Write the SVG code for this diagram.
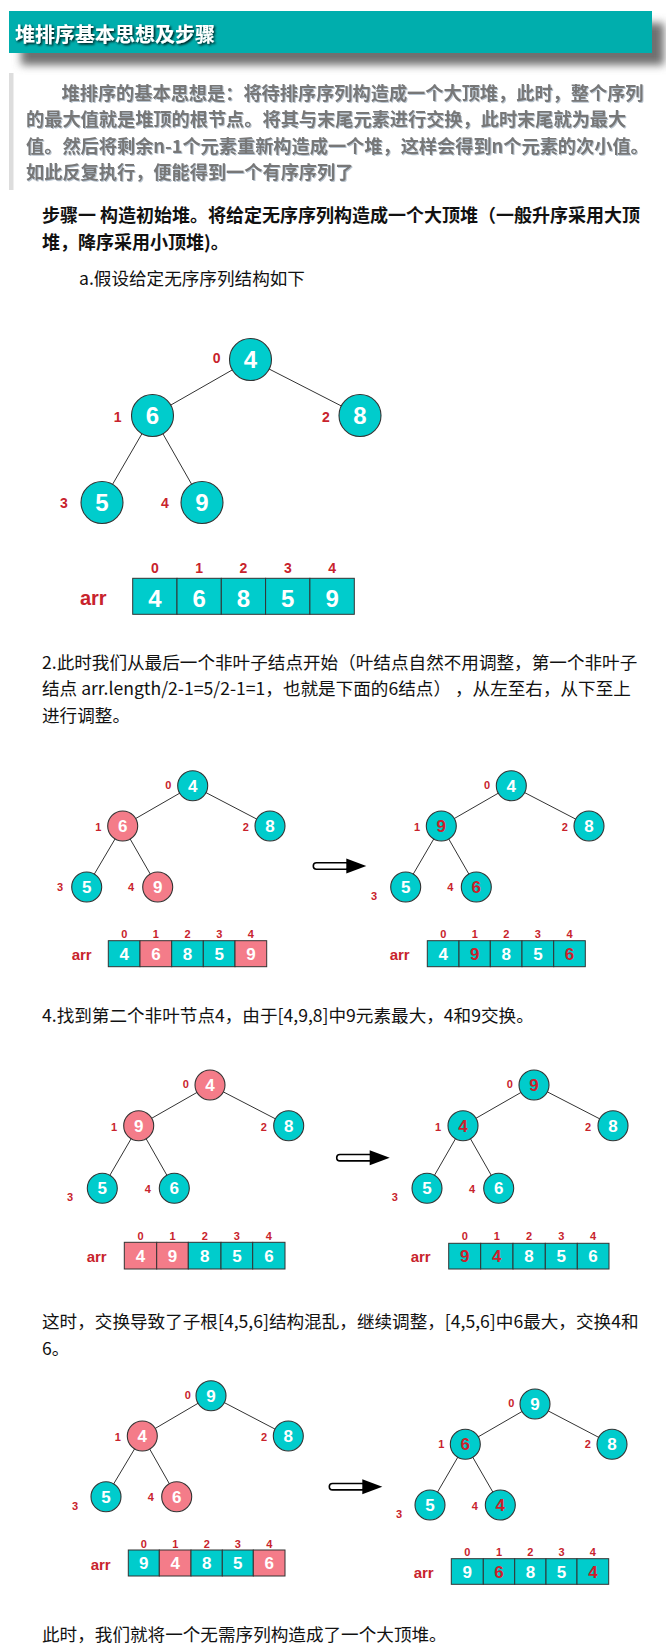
<svg xmlns="http://www.w3.org/2000/svg" xmlns:xlink="http://www.w3.org/1999/xlink" width="666" height="1651" viewBox="0 0 666 1651">
<style>
.cjk{font-family:"Noto Sans CJK SC","Noto Sans",sans-serif}
.title{font-size:20px;font-weight:bold;fill:#fff}
.quote{font-size:18.2px;font-weight:bold;fill:#777}
.step{font-size:18px;font-weight:bold;fill:#111}
.body{font-size:17.6px;fill:#111}
.nt{fill:#00CCCC;stroke:#333;stroke-width:1.1}
.np{fill:#F47C89;stroke:#333;stroke-width:1.1}
.edge{stroke:#333;stroke-width:1}
.num{font-family:"Liberation Sans",Arial,sans-serif;font-weight:bold;text-anchor:middle}
.w{fill:#fff}
.r{fill:#CC1F2B}
.idx{font-family:"Liberation Sans",Arial,sans-serif;font-weight:bold;text-anchor:middle;fill:#C8232C}
.big{font-size:24px}
.mid{font-size:17px}
.i14{font-size:14px}
.i11{font-size:11px}
.arrl{font-family:"Liberation Sans",Arial,sans-serif;font-weight:bold;text-anchor:middle;fill:#C8232C}
.cellt{fill:#00CCCC;stroke:#333;stroke-width:1}
.cellp{fill:#F47C89;stroke:#333;stroke-width:1}
</style>
<defs>
<filter id="hsh" x="-10%" y="-30%" width="130%" height="190%"><feGaussianBlur stdDeviation="4.5"/></filter>
<filter id="tsh" x="-5%" y="-30%" width="110%" height="160%"><feDropShadow dx="1.5" dy="1.5" stdDeviation="1.3" flood-color="#000" flood-opacity="0.9"/></filter>
<filter id="qsh" x="-5%" y="-30%" width="110%" height="160%"><feDropShadow dx="1" dy="1" stdDeviation="0.6" flood-color="#9ab" flood-opacity="0.7"/></filter>
<g id="fat-arrow">
<rect x="0" y="-3.2" width="36" height="6.4" rx="3.2" fill="#fff" stroke="#000" stroke-width="1.6"/>
<polygon points="33,-7.5 53,0 33,7.5" fill="#000"/>
</g>
</defs>
<rect width="666" height="1651" fill="#fff"/>

<!-- header -->
<g id="header">
<rect x="21" y="23" width="643" height="42" fill="#6f6f6f" filter="url(#hsh)"/>
<rect x="9" y="11" width="643" height="42" fill="#00AEAD"/>
<text class="cjk title" x="15" y="41.5" filter="url(#tsh)">堆排序基本思想及步骤</text>
</g>

<!-- blockquote -->
<g id="quote">
<rect x="9" y="73" width="4.5" height="117" fill="#ddd"/>
<g class="cjk quote" filter="url(#qsh)">
<text x="61.5" y="99.5">堆排序的基本思想是：将待排序序列构造成一个大顶堆，此时，整个序列</text>
<text x="26" y="126">的最大值就是堆顶的根节点。将其与末尾元素进行交换，此时末尾就为最大</text>
<text x="26" y="152.5">值。然后将剩余n-1个元素重新构造成一个堆，这样会得到n个元素的次小值。</text>
<text x="26" y="179">如此反复执行，便能得到一个有序序列了</text>
</g>
</g>

<g id="texts" class="cjk">
<text class="step" x="42" y="222">步骤一 构造初始堆。将给定无序序列构造成一个大顶堆（一般升序采用大顶</text>
<text class="step" x="42" y="248.5">堆，降序采用小顶堆)。</text>
<text class="body" x="79" y="285">a.假设给定无序序列结构如下</text>
<text class="body" x="42" y="668.5">2.此时我们从最后一个非叶子结点开始（叶结点自然不用调整，第一个非叶子</text>
<text class="body" x="42" y="695">结点 arr.length/2-1=5/2-1=1，也就是下面的6结点） ，从左至右，从下至上</text>
<text class="body" x="42" y="721.5">进行调整。</text>
<text class="body" x="42" y="1021.5">4.找到第二个非叶节点4，由于[4,9,8]中9元素最大，4和9交换。</text>
<text class="body" x="42" y="1328">这时，交换导致了子根[4,5,6]结构混乱，继续调整，[4,5,6]中6最大，交换4和</text>
<text class="body" x="42" y="1355">6。</text>
<text class="body" x="42" y="1641">此时，我们就将一个无需序列构造成了一个大顶堆。</text>
</g>

<!-- connectors (tree edges) -->
<g id="connectors" class="edge">
<line x1="250.5" y1="359.5" x2="152.5" y2="415.5"/>
<line x1="250.5" y1="359.5" x2="360" y2="415.5"/>
<line x1="152.5" y1="415.5" x2="102" y2="502.5"/>
<line x1="152.5" y1="415.5" x2="202" y2="502.5"/>

<line x1="192.7" y1="785.7" x2="122.7" y2="826"/>
<line x1="192.7" y1="785.7" x2="270" y2="826"/>
<line x1="122.7" y1="826" x2="86.7" y2="887"/>
<line x1="122.7" y1="826" x2="157.7" y2="887"/>

<line x1="511.3" y1="785.7" x2="441.3" y2="826"/>
<line x1="511.3" y1="785.7" x2="589" y2="826"/>
<line x1="441.3" y1="826" x2="405.7" y2="887"/>
<line x1="441.3" y1="826" x2="476.3" y2="887"/>

<line x1="210" y1="1085" x2="138.7" y2="1125.7"/>
<line x1="210" y1="1085" x2="288.7" y2="1125.7"/>
<line x1="138.7" y1="1125.7" x2="102.3" y2="1188.3"/>
<line x1="138.7" y1="1125.7" x2="174.3" y2="1188.3"/>

<line x1="534" y1="1085" x2="463" y2="1125.7"/>
<line x1="534" y1="1085" x2="613" y2="1125.7"/>
<line x1="463" y1="1125.7" x2="427" y2="1188.3"/>
<line x1="463" y1="1125.7" x2="498.7" y2="1188.3"/>

<line x1="211" y1="1395.7" x2="142.3" y2="1436"/>
<line x1="211" y1="1395.7" x2="288.3" y2="1436"/>
<line x1="142.3" y1="1436" x2="106" y2="1496.7"/>
<line x1="142.3" y1="1436" x2="176.7" y2="1496.7"/>

<line x1="535" y1="1404" x2="465.3" y2="1444.3"/>
<line x1="535" y1="1404" x2="612" y2="1444.3"/>
<line x1="465.3" y1="1444.3" x2="430" y2="1505"/>
<line x1="465.3" y1="1444.3" x2="500.3" y2="1505"/>
</g>

<!-- transformation arrows -->
<g id="arrows">
<use xlink:href="#fat-arrow" href="#fat-arrow" x="313.3" y="866"/>
<use xlink:href="#fat-arrow" href="#fat-arrow" x="336.7" y="1157.7"/>
<use xlink:href="#fat-arrow" href="#fat-arrow" x="329.3" y="1486.7"/>
</g>

<!-- Tree 1 -->
<g id="t1-n0"><circle class="nt" cx="250.5" cy="359.5" r="21"/><text class="num w big" x="250.5" y="368.1">4</text><text class="idx i14" x="216.7" y="363.3">0</text></g>
<g id="t1-n1"><circle class="nt" cx="152.5" cy="415.5" r="21"/><text class="num w big" x="152.5" y="424.1">6</text><text class="idx i14" x="117.7" y="422.3">1</text></g>
<g id="t1-n2"><circle class="nt" cx="360" cy="415.5" r="21"/><text class="num w big" x="360" y="424.1">8</text><text class="idx i14" x="326" y="422.3">2</text></g>
<g id="t1-n3"><circle class="nt" cx="102" cy="502.5" r="21"/><text class="num w big" x="102" y="511.1">5</text><text class="idx i14" x="64" y="508.3">3</text></g>
<g id="t1-n4"><circle class="nt" cx="202" cy="502.5" r="21"/><text class="num w big" x="202" y="511.1">9</text><text class="idx i14" x="165" y="508.3">4</text></g>
<g id="t1-arr">
<text class="arrl" font-size="20" x="93.3" y="605">arr</text>
<rect class="cellt" x="132.7" y="578.3" width="44.3" height="36"/>
<rect class="cellt" x="177" y="578.3" width="44.3" height="36"/>
<rect class="cellt" x="221.3" y="578.3" width="44.3" height="36"/>
<rect class="cellt" x="265.6" y="578.3" width="44.3" height="36"/>
<rect class="cellt" x="309.9" y="578.3" width="44.4" height="36"/>
<g class="idx i14"><text x="154.9" y="573.3">0</text><text x="199.2" y="573.3">1</text><text x="243.5" y="573.3">2</text><text x="287.8" y="573.3">3</text><text x="332.1" y="573.3">4</text></g>
<g class="num w big"><text x="154.9" y="606.5">4</text><text x="199.2" y="606.5">6</text><text x="243.5" y="606.5">8</text><text x="287.8" y="606.5">5</text><text x="332.1" y="606.5">9</text></g>
</g>

<!-- Tree 2 left -->
<g id="t2l-n0"><circle class="nt" cx="192.7" cy="785.7" r="15"/><text class="num w mid" x="192.7" y="791.8">4</text><text class="idx i11" x="168.3" y="789">0</text></g>
<g id="t2l-n1"><circle class="np" cx="122.7" cy="826" r="15"/><text class="num w mid" x="122.7" y="832.1">6</text><text class="idx i11" x="98.3" y="830.7">1</text></g>
<g id="t2l-n2"><circle class="nt" cx="270" cy="826" r="15"/><text class="num w mid" x="270" y="832.1">8</text><text class="idx i11" x="245.7" y="830.7">2</text></g>
<g id="t2l-n3"><circle class="nt" cx="86.7" cy="887" r="15"/><text class="num w mid" x="86.7" y="893.1">5</text><text class="idx i11" x="60" y="891.3">3</text></g>
<g id="t2l-n4"><circle class="np" cx="157.7" cy="887" r="15"/><text class="num w mid" x="157.7" y="893.1">9</text><text class="idx i11" x="131" y="891.3">4</text></g>
<g id="t2l-arr">
<text class="arrl" font-size="15" x="81.7" y="960">arr</text>
<rect class="cellt" x="108.3" y="940.7" width="31.7" height="26"/>
<rect class="cellp" x="140" y="940.7" width="31.7" height="26"/>
<rect class="cellt" x="171.7" y="940.7" width="31.6" height="26"/>
<rect class="cellt" x="203.3" y="940.7" width="31.7" height="26"/>
<rect class="cellp" x="235" y="940.7" width="31.7" height="26"/>
<g class="idx i11"><text x="124.2" y="938">0</text><text x="155.9" y="938">1</text><text x="187.5" y="938">2</text><text x="219.2" y="938">3</text><text x="250.9" y="938">4</text></g>
<g class="num w mid"><text x="124.2" y="959.8">4</text><text x="155.9" y="959.8">6</text><text x="187.5" y="959.8">8</text><text x="219.2" y="959.8">5</text><text x="250.9" y="959.8">9</text></g>
</g>

<!-- Tree 2 right -->
<g id="t2r-n0"><circle class="nt" cx="511.3" cy="785.7" r="15"/><text class="num w mid" x="511.3" y="791.8">4</text><text class="idx i11" x="487" y="789">0</text></g>
<g id="t2r-n1"><circle class="nt" cx="441.3" cy="826" r="15"/><text class="num r mid" x="441.3" y="832.1">9</text><text class="idx i11" x="417" y="830.7">1</text></g>
<g id="t2r-n2"><circle class="nt" cx="589" cy="826" r="15"/><text class="num w mid" x="589" y="832.1">8</text><text class="idx i11" x="564.7" y="830.7">2</text></g>
<g id="t2r-n3"><circle class="nt" cx="405.7" cy="887" r="15"/><text class="num w mid" x="405.7" y="893.1">5</text><text class="idx i11" x="374" y="900">3</text></g>
<g id="t2r-n4"><circle class="nt" cx="476.3" cy="887" r="15"/><text class="num r mid" x="476.3" y="893.1">6</text><text class="idx i11" x="450.3" y="891.3">4</text></g>
<g id="t2r-arr">
<text class="arrl" font-size="15" x="399.7" y="960">arr</text>
<rect class="cellt" x="427.3" y="940.7" width="31.7" height="26"/>
<rect class="cellt" x="459" y="940.7" width="31.3" height="26"/>
<rect class="cellt" x="490.3" y="940.7" width="31.7" height="26"/>
<rect class="cellt" x="522" y="940.7" width="31.7" height="26"/>
<rect class="cellt" x="553.7" y="940.7" width="31.6" height="26"/>
<g class="idx i11"><text x="443.2" y="938">0</text><text x="474.7" y="938">1</text><text x="506.2" y="938">2</text><text x="537.9" y="938">3</text><text x="569.5" y="938">4</text></g>
<g class="num mid"><text class="w" x="443.2" y="959.8">4</text><text class="r" x="474.7" y="959.8">9</text><text class="w" x="506.2" y="959.8">8</text><text class="w" x="537.9" y="959.8">5</text><text class="r" x="569.5" y="959.8">6</text></g>
</g>

<!-- Tree 3 left -->
<g id="t3l-n0"><circle class="np" cx="210" cy="1085" r="15"/><text class="num w mid" x="210" y="1091.1">4</text><text class="idx i11" x="185.7" y="1088">0</text></g>
<g id="t3l-n1"><circle class="np" cx="138.7" cy="1125.7" r="15"/><text class="num w mid" x="138.7" y="1131.8">9</text><text class="idx i11" x="114" y="1130.7">1</text></g>
<g id="t3l-n2"><circle class="nt" cx="288.7" cy="1125.7" r="15"/><text class="num w mid" x="288.7" y="1131.8">8</text><text class="idx i11" x="263.7" y="1130.7">2</text></g>
<g id="t3l-n3"><circle class="nt" cx="102.3" cy="1188.3" r="15"/><text class="num w mid" x="102.3" y="1194.4">5</text><text class="idx i11" x="70" y="1200.7">3</text></g>
<g id="t3l-n4"><circle class="nt" cx="174.3" cy="1188.3" r="15"/><text class="num w mid" x="174.3" y="1194.4">6</text><text class="idx i11" x="147.7" y="1193">4</text></g>
<g id="t3l-arr">
<text class="arrl" font-size="15" x="96.7" y="1262">arr</text>
<rect class="cellp" x="124.3" y="1242.3" width="32.4" height="26.7"/>
<rect class="cellp" x="156.7" y="1242.3" width="31.6" height="26.7"/>
<rect class="cellt" x="188.3" y="1242.3" width="32.7" height="26.7"/>
<rect class="cellt" x="221" y="1242.3" width="31.7" height="26.7"/>
<rect class="cellt" x="252.7" y="1242.3" width="32.3" height="26.7"/>
<g class="idx i11"><text x="140.5" y="1240">0</text><text x="172.5" y="1240">1</text><text x="204.7" y="1240">2</text><text x="236.9" y="1240">3</text><text x="268.9" y="1240">4</text></g>
<g class="num w mid"><text x="140.5" y="1261.8">4</text><text x="172.5" y="1261.8">9</text><text x="204.7" y="1261.8">8</text><text x="236.9" y="1261.8">5</text><text x="268.9" y="1261.8">6</text></g>
</g>

<!-- Tree 3 right -->
<g id="t3r-n0"><circle class="nt" cx="534" cy="1085" r="15"/><text class="num r mid" x="534" y="1091.1">9</text><text class="idx i11" x="509.7" y="1088">0</text></g>
<g id="t3r-n1"><circle class="nt" cx="463" cy="1125.7" r="15"/><text class="num r mid" x="463" y="1131.8">4</text><text class="idx i11" x="438" y="1130.7">1</text></g>
<g id="t3r-n2"><circle class="nt" cx="613" cy="1125.7" r="15"/><text class="num w mid" x="613" y="1131.8">8</text><text class="idx i11" x="588" y="1130.7">2</text></g>
<g id="t3r-n3"><circle class="nt" cx="427" cy="1188.3" r="15"/><text class="num w mid" x="427" y="1194.4">5</text><text class="idx i11" x="394.7" y="1200.7">3</text></g>
<g id="t3r-n4"><circle class="nt" cx="498.7" cy="1188.3" r="15"/><text class="num w mid" x="498.7" y="1194.4">6</text><text class="idx i11" x="472" y="1193">4</text></g>
<g id="t3r-arr">
<text class="arrl" font-size="15" x="420.7" y="1262">arr</text>
<rect class="cellt" x="448.7" y="1243.3" width="32" height="25.7"/>
<rect class="cellt" x="480.7" y="1243.3" width="32.3" height="25.7"/>
<rect class="cellt" x="513" y="1243.3" width="32.3" height="25.7"/>
<rect class="cellt" x="545.3" y="1243.3" width="32" height="25.7"/>
<rect class="cellt" x="577.3" y="1243.3" width="31.7" height="25.7"/>
<g class="idx i11"><text x="464.7" y="1240">0</text><text x="496.8" y="1240">1</text><text x="529.1" y="1240">2</text><text x="561.3" y="1240">3</text><text x="593.1" y="1240">4</text></g>
<g class="num mid"><text class="r" x="464.7" y="1262.2">9</text><text class="r" x="496.8" y="1262.2">4</text><text class="w" x="529.1" y="1262.2">8</text><text class="w" x="561.3" y="1262.2">5</text><text class="w" x="593.1" y="1262.2">6</text></g>
</g>

<!-- Tree 4 left -->
<g id="t4l-n0"><circle class="nt" cx="211" cy="1395.7" r="15"/><text class="num w mid" x="211" y="1401.8">9</text><text class="idx i11" x="187.7" y="1399">0</text></g>
<g id="t4l-n1"><circle class="np" cx="142.3" cy="1436" r="15"/><text class="num w mid" x="142.3" y="1442.1">4</text><text class="idx i11" x="117.7" y="1440.7">1</text></g>
<g id="t4l-n2"><circle class="nt" cx="288.3" cy="1436" r="15"/><text class="num w mid" x="288.3" y="1442.1">8</text><text class="idx i11" x="264" y="1440.7">2</text></g>
<g id="t4l-n3"><circle class="nt" cx="106" cy="1496.7" r="15"/><text class="num w mid" x="106" y="1502.8">5</text><text class="idx i11" x="75" y="1509.7">3</text></g>
<g id="t4l-n4"><circle class="np" cx="176.7" cy="1496.7" r="15"/><text class="num w mid" x="176.7" y="1502.8">6</text><text class="idx i11" x="150.7" y="1500.7">4</text></g>
<g id="t4l-arr">
<text class="arrl" font-size="15" x="100.7" y="1569.7">arr</text>
<rect class="cellt" x="128.3" y="1550" width="31" height="26"/>
<rect class="cellp" x="159.3" y="1550" width="31.7" height="26"/>
<rect class="cellt" x="191" y="1550" width="31.3" height="26"/>
<rect class="cellt" x="222.3" y="1550" width="31" height="26"/>
<rect class="cellp" x="253.3" y="1550" width="31.7" height="26"/>
<g class="idx i11"><text x="143.8" y="1547.7">0</text><text x="175.2" y="1547.7">1</text><text x="206.7" y="1547.7">2</text><text x="237.8" y="1547.7">3</text><text x="269.2" y="1547.7">4</text></g>
<g class="num w mid"><text x="143.8" y="1569.1">9</text><text x="175.2" y="1569.1">4</text><text x="206.7" y="1569.1">8</text><text x="237.8" y="1569.1">5</text><text x="269.2" y="1569.1">6</text></g>
</g>

<!-- Tree 4 right -->
<g id="t4r-n0"><circle class="nt" cx="535" cy="1404" r="15"/><text class="num w mid" x="535" y="1410.1">9</text><text class="idx i11" x="511.3" y="1407.3">0</text></g>
<g id="t4r-n1"><circle class="nt" cx="465.3" cy="1444.3" r="15"/><text class="num r mid" x="465.3" y="1450.4">6</text><text class="idx i11" x="441.3" y="1448.3">1</text></g>
<g id="t4r-n2"><circle class="nt" cx="612" cy="1444.3" r="15"/><text class="num w mid" x="612" y="1450.4">8</text><text class="idx i11" x="587.7" y="1448.3">2</text></g>
<g id="t4r-n3"><circle class="nt" cx="430" cy="1505" r="15"/><text class="num w mid" x="430" y="1511.1">5</text><text class="idx i11" x="399" y="1518">3</text></g>
<g id="t4r-n4"><circle class="nt" cx="500.3" cy="1505" r="15"/><text class="num r mid" x="500.3" y="1511.1">4</text><text class="idx i11" x="474.7" y="1509.7">4</text></g>
<g id="t4r-arr">
<text class="arrl" font-size="15" x="423.7" y="1578">arr</text>
<rect class="cellt" x="451.3" y="1558.7" width="32" height="25.6"/>
<rect class="cellt" x="483.3" y="1558.7" width="31.4" height="25.6"/>
<rect class="cellt" x="514.7" y="1558.7" width="31.3" height="25.6"/>
<rect class="cellt" x="546" y="1558.7" width="31" height="25.6"/>
<rect class="cellt" x="577" y="1558.7" width="31.7" height="25.6"/>
<g class="idx i11"><text x="467.3" y="1555.7">0</text><text x="499" y="1555.7">1</text><text x="530.4" y="1555.7">2</text><text x="561.5" y="1555.7">3</text><text x="592.9" y="1555.7">4</text></g>
<g class="num mid"><text class="w" x="467.3" y="1577.5">9</text><text class="r" x="499" y="1577.5">6</text><text class="w" x="530.4" y="1577.5">8</text><text class="w" x="561.5" y="1577.5">5</text><text class="r" x="592.9" y="1577.5">4</text></g>
</g>
</svg>
